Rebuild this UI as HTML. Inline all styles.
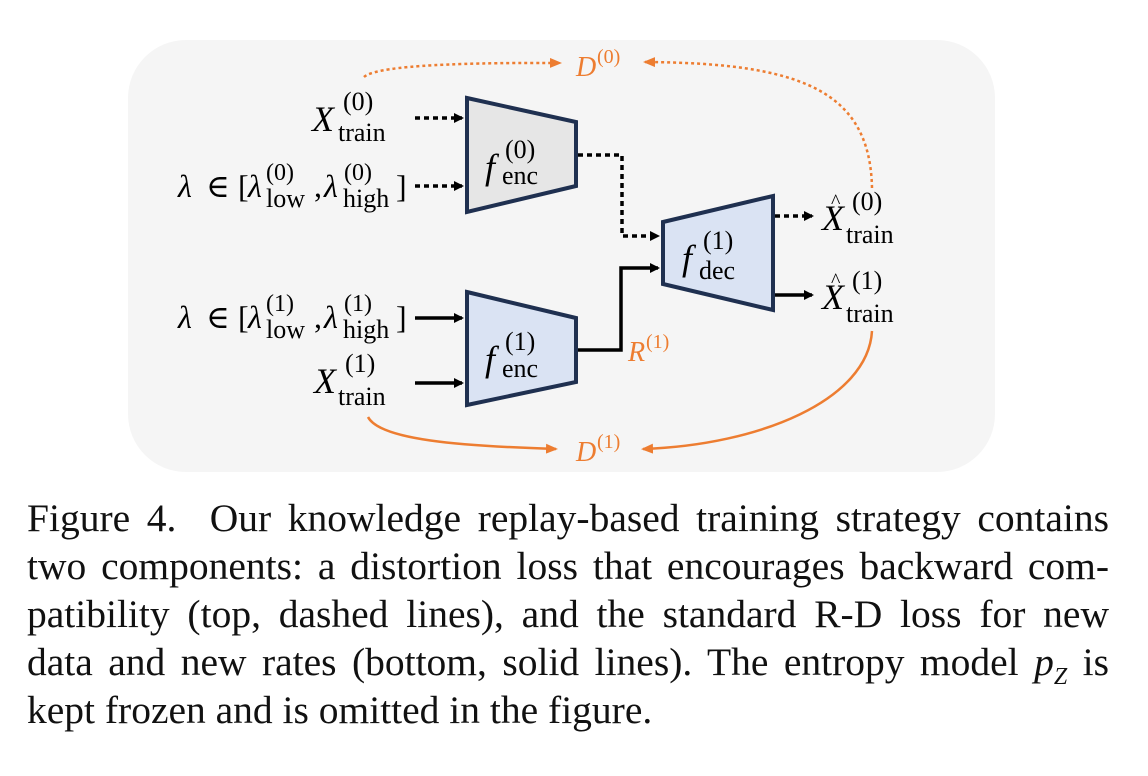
<!DOCTYPE html>
<html><head><meta charset="utf-8"><style>
body{margin:0;width:1148px;height:776px;background:#fff;overflow:hidden;position:relative;font-family:"Liberation Serif",serif}
svg{position:absolute;left:0;top:0}
.cap{position:absolute;left:27px;width:1082px;font-size:39.5px;color:#111;line-height:48px;text-align:justify;text-align-last:justify;white-space:nowrap}
.m{font-family:"Liberation Serif","DejaVu Serif",serif}
</style></head><body>
<svg width="1148" height="480" viewBox="0 0 1148 480">
<defs>
<marker id="ab" markerWidth="10" markerHeight="10" refX="8" refY="5" orient="auto" markerUnits="userSpaceOnUse"><path d="M0,0 L10,5 L0,10 z" fill="#000"/></marker>
<marker id="ao" markerWidth="12" markerHeight="10" refX="10" refY="5" orient="auto" markerUnits="userSpaceOnUse"><path d="M0,0 L12,5 L0,10 z" fill="#ed7d31"/></marker>
</defs>
<rect x="128" y="40" width="867" height="432" rx="58" fill="#f5f5f5"/>
<polygon points="467,98 576,122 576,186 467,212" fill="#e6e6e6" stroke="#1f3050" stroke-width="4"/>
<polygon points="467,292 576,318 576,382 467,405" fill="#dae3f3" stroke="#1f3050" stroke-width="4"/>
<polygon points="663,222 773,196 773,310 663,284" fill="#dae3f3" stroke="#1f3050" stroke-width="4"/>
<g stroke="#000" stroke-width="3.5" fill="none">
<path d="M415,118 H462" stroke-dasharray="5,4" marker-end="url(#ab)"/>
<path d="M415,186 H462" stroke-dasharray="5,4" marker-end="url(#ab)"/>
<path d="M578,155 H622 V236 H658" stroke-dasharray="5,4" marker-end="url(#ab)"/>
<path d="M775,216 H812" stroke-dasharray="5,4" marker-end="url(#ab)"/>
<path d="M415,318 H462" marker-end="url(#ab)"/>
<path d="M415,383 H462" marker-end="url(#ab)"/>
<path d="M578,350 H621 V268 H658" marker-end="url(#ab)"/>
<path d="M775,295 H812" marker-end="url(#ab)"/>
</g>
<g stroke="#ed7d31" stroke-width="2.5" fill="none">
<path d="M364,77 Q380,62 560,63" stroke-dasharray="3,3" marker-end="url(#ao)"/>
<path d="M872,188 C870,90 800,63 645,62" stroke-dasharray="3,3" marker-end="url(#ao)"/>
<path d="M368,417 C380,440 460,446 556,449" marker-end="url(#ao)"/>
<path d="M872,331 C868,400 760,445 643,449" marker-end="url(#ao)"/>
</g>
<g class="m" fill="#000">
<text x="312" y="131" font-size="36" font-style="italic">X</text>
<text x="343" y="110" font-size="26">(0)</text>
<text x="338" y="141" font-size="26">train</text>
<text x="178" y="197" font-size="32" font-style="italic">λ</text>
<text x="206" y="197" font-size="32">∈</text>
<text x="238" y="197" font-size="32">[</text>
<text x="248" y="197" font-size="32" font-style="italic">λ</text>
<text x="266" y="180" font-size="24">(0)</text>
<text x="266" y="207" font-size="26">low</text>
<text x="314" y="197" font-size="32">,</text>
<text x="324" y="197" font-size="32" font-style="italic">λ</text>
<text x="344" y="180" font-size="24">(0)</text>
<text x="343" y="207" font-size="26">high</text>
<text x="396" y="197" font-size="32">]</text>
<text x="178" y="328" font-size="32" font-style="italic">λ</text>
<text x="206" y="328" font-size="32">∈</text>
<text x="238" y="328" font-size="32">[</text>
<text x="248" y="328" font-size="32" font-style="italic">λ</text>
<text x="266" y="311" font-size="24">(1)</text>
<text x="266" y="338" font-size="26">low</text>
<text x="314" y="328" font-size="32">,</text>
<text x="324" y="328" font-size="32" font-style="italic">λ</text>
<text x="344" y="311" font-size="24">(1)</text>
<text x="343" y="338" font-size="26">high</text>
<text x="396" y="328" font-size="32">]</text>
<text x="314" y="393" font-size="36" font-style="italic">X</text>
<text x="345" y="372" font-size="26">(1)</text>
<text x="338" y="405" font-size="26">train</text>
<text x="485" y="179" font-size="36" font-style="italic">f</text>
<text x="505" y="158" font-size="26">(0)</text>
<text x="502" y="184" font-size="26">enc</text>
<text x="485" y="371" font-size="36" font-style="italic">f</text>
<text x="505" y="350" font-size="26">(1)</text>
<text x="502" y="377" font-size="26">enc</text>
<text x="682" y="270" font-size="36" font-style="italic">f</text>
<text x="703" y="249" font-size="26">(1)</text>
<text x="699" y="279" font-size="26">dec</text>
<text x="822" y="230" font-size="36" font-style="italic">X</text>
<text x="831" y="208" font-size="20">^</text>
<text x="852" y="210" font-size="26">(0)</text>
<text x="846" y="243" font-size="26">train</text>
<text x="822" y="309" font-size="36" font-style="italic">X</text>
<text x="831" y="287" font-size="20">^</text>
<text x="852" y="289" font-size="26">(1)</text>
<text x="846" y="322" font-size="26">train</text>
</g>
<g class="m" fill="#ed7d31">
<text x="576" y="76" font-size="28" font-style="italic">D</text><text x="597" y="63" font-size="20">(0)</text>
<text x="576" y="461" font-size="28" font-style="italic">D</text><text x="597" y="448" font-size="20">(1)</text>
<text x="628" y="361" font-size="28" font-style="italic">R</text><text x="646" y="348" font-size="20">(1)</text>
</g>
</svg>
<div class="cap" style="top:494px">Figure 4.&nbsp; Our knowledge replay-based training strategy contains</div>
<div class="cap" style="top:542px">two components: a distortion loss that encourages backward com-</div>
<div class="cap" style="top:590px">patibility (top, dashed lines), and the standard R-D loss for new</div>
<div class="cap" style="top:638px">data and new rates (bottom, solid lines). The entropy model <i>p<sub style="font-size:24px">Z</sub></i> is</div>
<div class="cap" style="top:686px;text-align-last:left">kept frozen and is omitted in the figure.</div>
</body></html>
